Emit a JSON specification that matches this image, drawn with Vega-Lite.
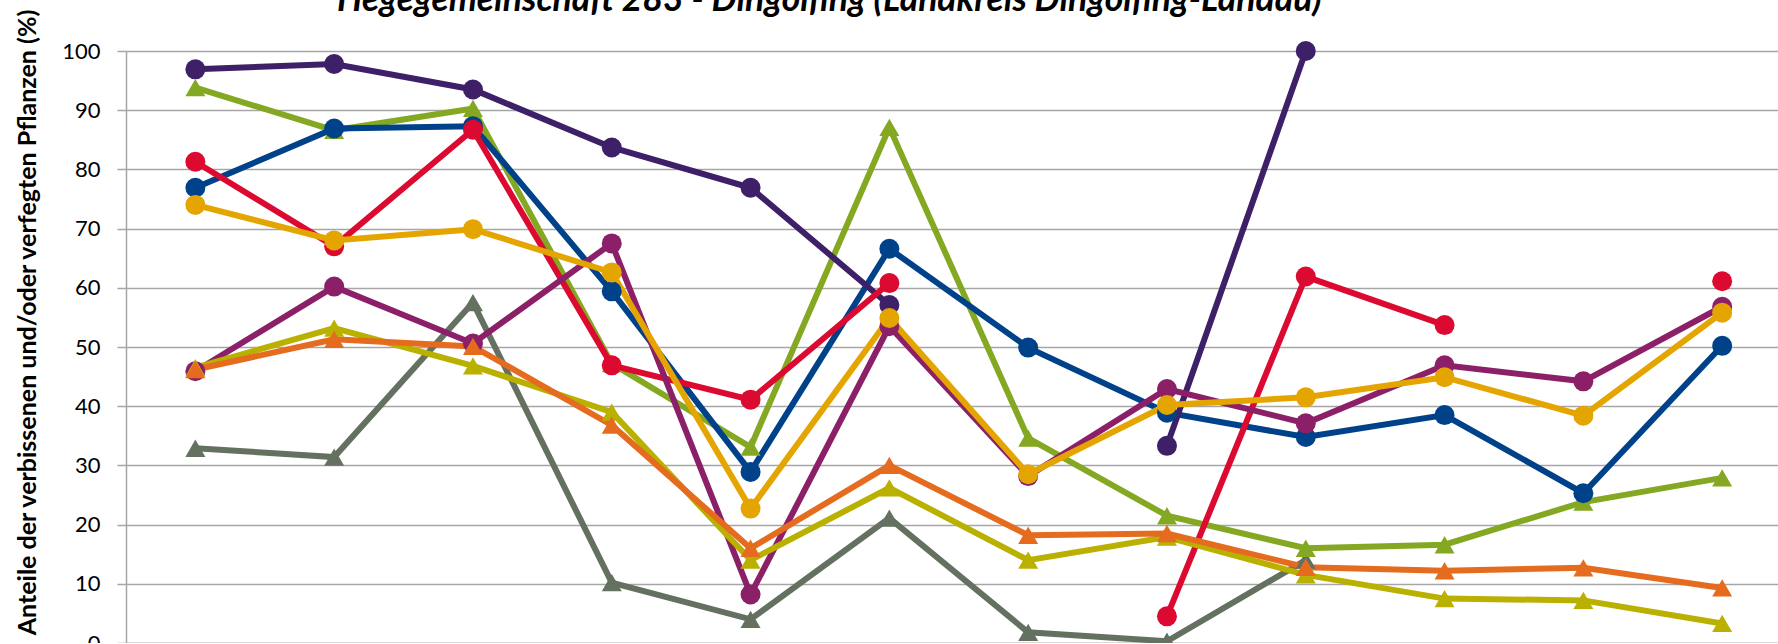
{
  "$schema": "https://vega.github.io/schema/vega-lite/v6.json",
  "autosize": {"type": "none"},
  "padding": {"left": 126, "top": 51, "right": 0, "bottom": 0},
  "width": 1652,
  "height": 592,
  "background": "white",
  "title": {
    "text": "Hegegemeinschaft 283 - Dingolfing (Landkreis Dingolfing-Landau)",
    "font": "Lato",
    "fontSize": 35.5,
    "fontWeight": "bold",
    "fontStyle": "italic",
    "color": "#000000",
    "anchor": "start",
    "frame": "group",
    "dx": 211,
    "baseline": "alphabetic",
    "offset": -38
  },
  "config": {"view": {"stroke": null}},
  "data": {
    "values": [
      {"Reihe": "Reihe 9", "Jahr": "1991", "Anteil": 32.9},
      {"Reihe": "Reihe 9", "Jahr": "1994", "Anteil": 31.4},
      {"Reihe": "Reihe 9", "Jahr": "1997", "Anteil": 57.5},
      {"Reihe": "Reihe 9", "Jahr": "2000", "Anteil": 10.2},
      {"Reihe": "Reihe 9", "Jahr": "2003", "Anteil": 4.0},
      {"Reihe": "Reihe 9", "Jahr": "2006", "Anteil": 21.1},
      {"Reihe": "Reihe 9", "Jahr": "2009", "Anteil": 1.8},
      {"Reihe": "Reihe 9", "Jahr": "2012", "Anteil": 0.3},
      {"Reihe": "Reihe 9", "Jahr": "2015", "Anteil": 14.0},
      {"Reihe": "Reihe 9", "Jahr": "2018", "Anteil": null},
      {"Reihe": "Reihe 9", "Jahr": "2021", "Anteil": null},
      {"Reihe": "Reihe 9", "Jahr": "2024", "Anteil": null},

      {"Reihe": "Reihe 2", "Jahr": "1991", "Anteil": 93.8},
      {"Reihe": "Reihe 2", "Jahr": "1994", "Anteil": 86.6},
      {"Reihe": "Reihe 2", "Jahr": "1997", "Anteil": 90.3},
      {"Reihe": "Reihe 2", "Jahr": "2000", "Anteil": 47.2},
      {"Reihe": "Reihe 2", "Jahr": "2003", "Anteil": 33.1},
      {"Reihe": "Reihe 2", "Jahr": "2006", "Anteil": 87.1},
      {"Reihe": "Reihe 2", "Jahr": "2009", "Anteil": 34.6},
      {"Reihe": "Reihe 2", "Jahr": "2012", "Anteil": 21.5},
      {"Reihe": "Reihe 2", "Jahr": "2015", "Anteil": 16.0},
      {"Reihe": "Reihe 2", "Jahr": "2018", "Anteil": 16.6},
      {"Reihe": "Reihe 2", "Jahr": "2021", "Anteil": 23.8},
      {"Reihe": "Reihe 2", "Jahr": "2024", "Anteil": 27.9},

      {"Reihe": "Reihe 3", "Jahr": "1991", "Anteil": 76.9},
      {"Reihe": "Reihe 3", "Jahr": "1994", "Anteil": 86.9},
      {"Reihe": "Reihe 3", "Jahr": "1997", "Anteil": 87.3},
      {"Reihe": "Reihe 3", "Jahr": "2000", "Anteil": 59.4},
      {"Reihe": "Reihe 3", "Jahr": "2003", "Anteil": 28.9},
      {"Reihe": "Reihe 3", "Jahr": "2006", "Anteil": 66.6},
      {"Reihe": "Reihe 3", "Jahr": "2009", "Anteil": 49.9},
      {"Reihe": "Reihe 3", "Jahr": "2012", "Anteil": 38.9},
      {"Reihe": "Reihe 3", "Jahr": "2015", "Anteil": 34.8},
      {"Reihe": "Reihe 3", "Jahr": "2018", "Anteil": 38.5},
      {"Reihe": "Reihe 3", "Jahr": "2021", "Anteil": 25.3},
      {"Reihe": "Reihe 3", "Jahr": "2024", "Anteil": 50.2},

      {"Reihe": "Reihe 1", "Jahr": "1991", "Anteil": 96.9},
      {"Reihe": "Reihe 1", "Jahr": "1994", "Anteil": 97.8},
      {"Reihe": "Reihe 1", "Jahr": "1997", "Anteil": 93.5},
      {"Reihe": "Reihe 1", "Jahr": "2000", "Anteil": 83.7},
      {"Reihe": "Reihe 1", "Jahr": "2003", "Anteil": 76.9},
      {"Reihe": "Reihe 1", "Jahr": "2006", "Anteil": 57.1},
      {"Reihe": "Reihe 1", "Jahr": "2009", "Anteil": null},
      {"Reihe": "Reihe 1", "Jahr": "2012", "Anteil": 33.3},
      {"Reihe": "Reihe 1", "Jahr": "2015", "Anteil": 100},
      {"Reihe": "Reihe 1", "Jahr": "2018", "Anteil": null},
      {"Reihe": "Reihe 1", "Jahr": "2021", "Anteil": null},
      {"Reihe": "Reihe 1", "Jahr": "2024", "Anteil": null},

      {"Reihe": "Reihe 4", "Jahr": "1991", "Anteil": 81.3},
      {"Reihe": "Reihe 4", "Jahr": "1994", "Anteil": 67.0},
      {"Reihe": "Reihe 4", "Jahr": "1997", "Anteil": 86.7},
      {"Reihe": "Reihe 4", "Jahr": "2000", "Anteil": 46.9},
      {"Reihe": "Reihe 4", "Jahr": "2003", "Anteil": 41.1},
      {"Reihe": "Reihe 4", "Jahr": "2006", "Anteil": 60.8},
      {"Reihe": "Reihe 4", "Jahr": "2009", "Anteil": null},
      {"Reihe": "Reihe 4", "Jahr": "2012", "Anteil": 4.5},
      {"Reihe": "Reihe 4", "Jahr": "2015", "Anteil": 61.9},
      {"Reihe": "Reihe 4", "Jahr": "2018", "Anteil": 53.7},
      {"Reihe": "Reihe 4", "Jahr": "2021", "Anteil": null},
      {"Reihe": "Reihe 4", "Jahr": "2024", "Anteil": 61.1},

      {"Reihe": "Reihe 6", "Jahr": "1991", "Anteil": 45.9},
      {"Reihe": "Reihe 6", "Jahr": "1994", "Anteil": 60.2},
      {"Reihe": "Reihe 6", "Jahr": "1997", "Anteil": 50.6},
      {"Reihe": "Reihe 6", "Jahr": "2000", "Anteil": 67.5},
      {"Reihe": "Reihe 6", "Jahr": "2003", "Anteil": 8.2},
      {"Reihe": "Reihe 6", "Jahr": "2006", "Anteil": 53.5},
      {"Reihe": "Reihe 6", "Jahr": "2009", "Anteil": 28.2},
      {"Reihe": "Reihe 6", "Jahr": "2012", "Anteil": 42.9},
      {"Reihe": "Reihe 6", "Jahr": "2015", "Anteil": 37.1},
      {"Reihe": "Reihe 6", "Jahr": "2018", "Anteil": 46.9},
      {"Reihe": "Reihe 6", "Jahr": "2021", "Anteil": 44.2},
      {"Reihe": "Reihe 6", "Jahr": "2024", "Anteil": 56.8},

      {"Reihe": "Reihe 8", "Jahr": "1991", "Anteil": 46.5},
      {"Reihe": "Reihe 8", "Jahr": "1994", "Anteil": 53.2},
      {"Reihe": "Reihe 8", "Jahr": "1997", "Anteil": 46.8},
      {"Reihe": "Reihe 8", "Jahr": "2000", "Anteil": 39.0},
      {"Reihe": "Reihe 8", "Jahr": "2003", "Anteil": 14.0},
      {"Reihe": "Reihe 8", "Jahr": "2006", "Anteil": 26.2},
      {"Reihe": "Reihe 8", "Jahr": "2009", "Anteil": 14.0},
      {"Reihe": "Reihe 8", "Jahr": "2012", "Anteil": 17.9},
      {"Reihe": "Reihe 8", "Jahr": "2015", "Anteil": 11.5},
      {"Reihe": "Reihe 8", "Jahr": "2018", "Anteil": 7.5},
      {"Reihe": "Reihe 8", "Jahr": "2021", "Anteil": 7.2},
      {"Reihe": "Reihe 8", "Jahr": "2024", "Anteil": 3.3},

      {"Reihe": "Reihe 7", "Jahr": "1991", "Anteil": 46.2},
      {"Reihe": "Reihe 7", "Jahr": "1994", "Anteil": 51.3},
      {"Reihe": "Reihe 7", "Jahr": "1997", "Anteil": 50.1},
      {"Reihe": "Reihe 7", "Jahr": "2000", "Anteil": 36.8},
      {"Reihe": "Reihe 7", "Jahr": "2003", "Anteil": 16.0},
      {"Reihe": "Reihe 7", "Jahr": "2006", "Anteil": 30.0},
      {"Reihe": "Reihe 7", "Jahr": "2009", "Anteil": 18.2},
      {"Reihe": "Reihe 7", "Jahr": "2012", "Anteil": 18.5},
      {"Reihe": "Reihe 7", "Jahr": "2015", "Anteil": 12.8},
      {"Reihe": "Reihe 7", "Jahr": "2018", "Anteil": 12.2},
      {"Reihe": "Reihe 7", "Jahr": "2021", "Anteil": 12.7},
      {"Reihe": "Reihe 7", "Jahr": "2024", "Anteil": 9.3},

      {"Reihe": "Reihe 5", "Jahr": "1991", "Anteil": 74.0},
      {"Reihe": "Reihe 5", "Jahr": "1994", "Anteil": 68.0},
      {"Reihe": "Reihe 5", "Jahr": "1997", "Anteil": 69.9},
      {"Reihe": "Reihe 5", "Jahr": "2000", "Anteil": 62.6},
      {"Reihe": "Reihe 5", "Jahr": "2003", "Anteil": 22.7},
      {"Reihe": "Reihe 5", "Jahr": "2006", "Anteil": 54.9},
      {"Reihe": "Reihe 5", "Jahr": "2009", "Anteil": 28.5},
      {"Reihe": "Reihe 5", "Jahr": "2012", "Anteil": 40.2},
      {"Reihe": "Reihe 5", "Jahr": "2015", "Anteil": 41.5},
      {"Reihe": "Reihe 5", "Jahr": "2018", "Anteil": 44.9},
      {"Reihe": "Reihe 5", "Jahr": "2021", "Anteil": 38.4},
      {"Reihe": "Reihe 5", "Jahr": "2024", "Anteil": 55.8}
    ]
  },
  "encoding": {
    "x": {
      "field": "Jahr",
      "type": "ordinal",
      "sort": null,
      "scale": {"type": "point", "padding": 0.451, "align": 0.554},
      "axis": {
        "title": null,
        "grid": false,
        "labelAngle": 0,
        "labelFont": "Lato",
        "labelFontSize": 22,
        "labelColor": "#000000",
        "domainColor": "#a6a6a6",
        "domainWidth": 1.5,
        "tickColor": "#a6a6a6",
        "tickWidth": 1.5
      }
    },
    "y": {
      "field": "Anteil",
      "type": "quantitative",
      "scale": {"domain": [0, 100], "nice": false, "zero": true},
      "axis": {
        "values": [0, 10, 20, 30, 40, 50, 60, 70, 80, 90, 100],
        "grid": true,
        "gridColor": "#a6a6a6",
        "gridWidth": 1.5,
        "domainColor": "#a6a6a6",
        "domainWidth": 1.5,
        "tickColor": "#a6a6a6",
        "tickWidth": 1.5,
        "tickSize": 9,
        "labelFont": "Lato",
        "labelFontSize": 22,
        "labelColor": "#000000",
        "labelPadding": 17,
        "title": "Anteile der verbissenen und/oder verfegten Pflanzen (%)",
        "titleFont": "Lato",
        "titleFontSize": 25,
        "titleFontWeight": "bold",
        "titleColor": "#000000",
        "titleAngle": 270,
        "titleAlign": "center",
        "titleBaseline": "alphabetic",
        "titleX": -91,
        "titleY": 271
      }
    },
    "color": {
      "field": "Reihe",
      "type": "nominal",
      "scale": {
        "domain": ["Reihe 9", "Reihe 2", "Reihe 3", "Reihe 1", "Reihe 4", "Reihe 6", "Reihe 8", "Reihe 7", "Reihe 5"],
        "range": ["#647060", "#84a822", "#00428a", "#3d2068", "#dc0a30", "#8c2068", "#bab000", "#e56b1f", "#e5a500"]
      },
      "legend": null
    }
  },
  "layer": [
    {
      "mark": {"type": "line", "strokeWidth": 6, "invalid": "break-paths-filter-domains"}
    },
    {
      "mark": {"type": "point", "filled": true, "opacity": 1, "size": 400},
      "encoding": {
        "shape": {
          "field": "Reihe",
          "type": "nominal",
          "scale": {
            "domain": ["Reihe 9", "Reihe 2", "Reihe 3", "Reihe 1", "Reihe 4", "Reihe 6", "Reihe 8", "Reihe 7", "Reihe 5"],
            "range": ["triangle-up", "triangle-up", "circle", "circle", "circle", "circle", "triangle-up", "triangle-up", "circle"]
          },
          "legend": null
        }
      }
    }
  ]
}
